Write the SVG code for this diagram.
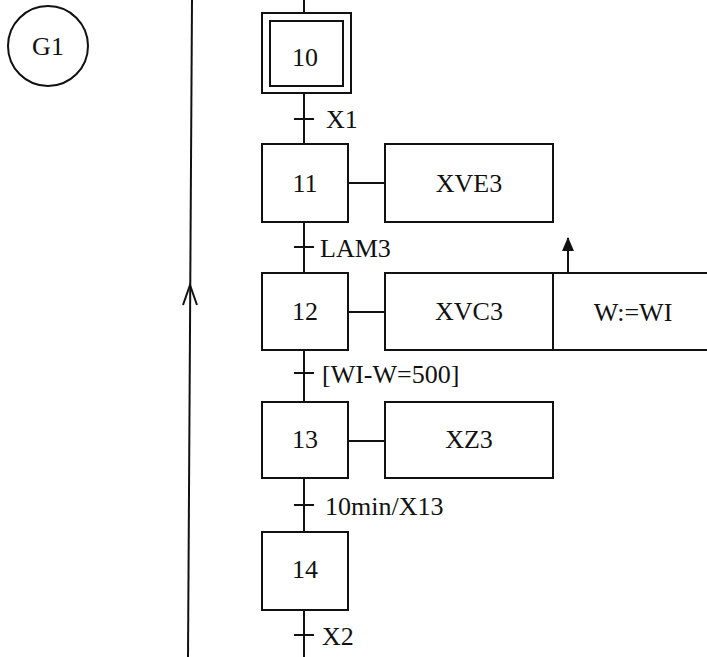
<svg xmlns="http://www.w3.org/2000/svg" width="707" height="657" viewBox="0 0 707 657">
<defs>
<style>
.b{fill:#fff;stroke:#111;stroke-width:2}
.l{stroke:#111;stroke-width:2;fill:none}
.t{font-family:"Liberation Serif","Times New Roman",serif;font-size:26px;fill:#111}
.c{text-anchor:middle}
</style>
<marker id="fa" markerWidth="14" markerHeight="12" refX="13" refY="6" orient="auto" markerUnits="userSpaceOnUse" viewBox="0 0 14 12">
<path d="M0 0 L14 6 L0 12 Z" fill="#111"/>
</marker>
</defs>
<rect width="707" height="657" fill="#fff"/>
<g id="G1">
<circle cx="48" cy="46" r="40" fill="none" stroke="#111" stroke-width="2"/>
<text class="t c" x="48" y="55">G1</text>
</g>
<g id="connectors">
<line class="l" x1="192" y1="0" x2="188" y2="657"/>
<polyline class="l" points="183,305 190,285 197,305"/>
<line class="l" x1="304" y1="0" x2="304" y2="13"/>
<line class="l" x1="304" y1="93" x2="304" y2="144"/>
<line class="l" x1="304" y1="222" x2="304" y2="273"/>
<line class="l" x1="304" y1="350" x2="304" y2="402"/>
<line class="l" x1="304" y1="478" x2="304" y2="532"/>
<line class="l" x1="304" y1="610" x2="304" y2="657"/>
<line class="l" x1="294" y1="119" x2="314" y2="119"/>
<line class="l" x1="294" y1="247" x2="314" y2="247"/>
<line class="l" x1="294" y1="373" x2="314" y2="373"/>
<line class="l" x1="294" y1="505" x2="314" y2="505"/>
<line class="l" x1="294" y1="635" x2="314" y2="635"/>
<line class="l" x1="348" y1="183" x2="385" y2="183"/>
<line class="l" x1="348" y1="312" x2="385" y2="312"/>
<line class="l" x1="348" y1="441" x2="385" y2="441"/>
<line class="l" x1="568" y1="273" x2="568" y2="238" marker-end="url(#fa)"/>
</g>
<g id="labels">
<text class="t" x="326" y="128">X1</text>
<text class="t" x="320" y="257">LAM3</text>
<text class="t" x="322" y="383">[WI-W=500]</text>
<text class="t" x="325" y="515">10min/X13</text>
<text class="t" x="322" y="645">X2</text>
</g>
<g id="step10">
<rect class="b" x="262" y="13" width="89" height="80"/>
<rect class="b" x="270" y="21" width="73" height="65"/>
<text class="t c" x="305" y="66">10</text>
</g>
<g id="step11">
<rect class="b" x="262" y="144" width="86" height="78"/>
<text class="t c" x="305" y="192">11</text>
</g>
<g id="action11">
<rect class="b" x="385" y="144" width="168" height="78"/>
<text class="t c" x="469" y="192">XVE3</text>
</g>
<g id="step12">
<rect class="b" x="262" y="273" width="86" height="77"/>
<text class="t c" x="305" y="320">12</text>
</g>
<g id="action12">
<rect class="b" x="385" y="273" width="168" height="77"/>
<text class="t c" x="469" y="320">XVC3</text>
</g>
<g id="action12b">
<rect class="b" x="553" y="273" width="170" height="77"/>
<text class="t c" x="633" y="321">W:=WI</text>
</g>
<g id="step13">
<rect class="b" x="262" y="402" width="86" height="76"/>
<text class="t c" x="305" y="448">13</text>
</g>
<g id="action13">
<rect class="b" x="385" y="402" width="168" height="76"/>
<text class="t c" x="469" y="448">XZ3</text>
</g>
<g id="step14">
<rect class="b" x="262" y="532" width="86" height="78"/>
<text class="t c" x="305" y="578">14</text>
</g>
</svg>
